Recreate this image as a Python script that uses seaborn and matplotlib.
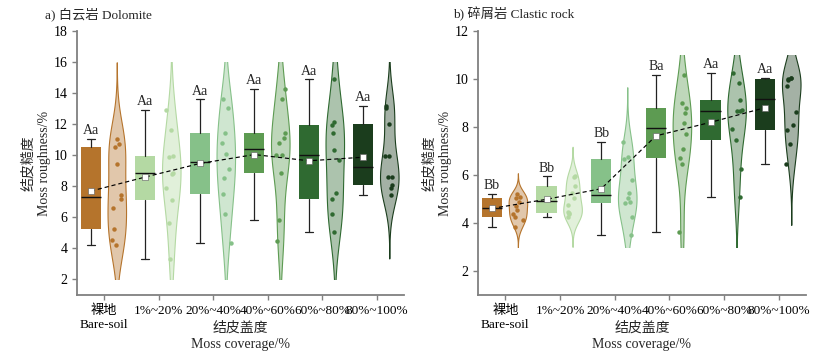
import numpy as np
import seaborn as sns
import matplotlib.pyplot as plt
from matplotlib.patches import Rectangle
from matplotlib.colors import to_rgb

# coverage classes
categories = ['裸地\nBare-soil', '1%~20%', '20%~40%', '40%~60%', '60%~80%', '80%~100%']
box_colors = ['#B5742C', '#B4D9A3', '#86C189', '#5D9B52', '#2F6A31', '#1B3D1D']

# moss roughness (%) per plot, 10 replicates per class
dolomite = [
    [11.04, 10.72, 10.56, 9.42, 7.42, 7.21, 6.62, 5.22, 4.51, 4.20],
    [12.92, 11.60, 9.96, 9.90, 8.88, 8.78, 7.87, 7.09, 5.64, 3.34],
    [13.61, 13.04, 11.43, 10.80, 10.05, 9.12, 8.56, 7.52, 6.20, 4.37],
    [14.28, 13.62, 11.46, 11.12, 10.77, 10.02, 10.00, 8.86, 5.80, 4.50],
    [14.88, 12.17, 11.94, 11.40, 10.33, 9.71, 7.55, 7.17, 6.20, 5.08],
    [13.18, 13.05, 12.03, 9.92, 9.92, 8.62, 8.62, 8.08, 7.87, 7.44],
]
clastic = [
    [5.21, 5.10, 5.03, 4.88, 4.70, 4.55, 4.38, 4.23, 4.12, 3.85],
    [5.95, 5.90, 5.53, 5.26, 5.05, 4.75, 4.45, 4.41, 4.36, 4.23],
    [7.37, 6.74, 6.67, 5.78, 5.26, 5.04, 4.86, 4.84, 4.23, 3.50],
    [10.16, 9.00, 8.81, 8.58, 8.16, 7.72, 7.08, 6.72, 6.44, 3.64],
    [10.27, 9.85, 9.11, 8.72, 8.67, 8.65, 7.90, 7.44, 6.27, 5.07],
    [10.06, 10.05, 10.00, 9.95, 9.70, 8.62, 8.08, 7.89, 7.28, 6.44],
]
dolomite_letters = ['Aa', 'Aa', 'Aa', 'Aa', 'Aa', 'Aa']
clastic_letters = ['Bb', 'Bb', 'Bb', 'Ba', 'Aa', 'Aa']


def lighten(c, f=0.4):
    r = np.array(to_rgb(c))
    return tuple(1 - f * (1 - r))


def box_stats(vals):
    # Tukey hinges, whiskers at 1.5 IQR, no fliers drawn
    v = np.sort(np.asarray(vals))
    n = len(v)
    half = n // 2
    q1 = np.median(v[:half + n % 2])
    q3 = np.median(v[half:])
    iqr = q3 - q1
    return dict(med=np.median(v), q1=q1, q3=q3,
                whislo=v[v >= q1 - 1.5 * iqr].min(),
                whishi=v[v <= q3 + 1.5 * iqr].max(),
                mean=v.mean(), fliers=[])


def draw_panel(ax, data, letters, clip, ylim, yticks):
    box_pos = np.arange(len(data)) - 0.245
    vio_pos = np.arange(len(data)) + 0.23

    for i, vals in enumerate(data):
        n0 = len(ax.collections)
        sns.violinplot(x=np.full(len(vals), vio_pos[i]), y=vals, orient='x',
                       native_scale=True, ax=ax, color=lighten(box_colors[i]),
                       linecolor=box_colors[i], linewidth=0.8, saturation=1,
                       inner=None, cut=3, width=0.34)
        rect = Rectangle((-1, clip[0]), 8, clip[1] - clip[0], transform=ax.transData)
        for coll in ax.collections[n0:]:
            coll.set_clip_path(rect)
        sns.stripplot(x=np.full(len(vals), vio_pos[i]), y=vals, orient='x',
                      native_scale=True, ax=ax, color=box_colors[i], size=3.2,
                      linewidth=0, jitter=0.1, zorder=3)

    stats = [box_stats(v) for v in data]
    bp = ax.bxp(stats, positions=box_pos, widths=0.37, capwidths=0.15,
                patch_artist=True, showmeans=True, showfliers=False,
                boxprops=dict(linewidth=0),
                whiskerprops=dict(color='#222222', linewidth=0.9),
                capprops=dict(color='#222222', linewidth=0.9),
                medianprops=dict(color='#111111', linewidth=1.0),
                meanprops=dict(marker='s', markerfacecolor='white',
                               markeredgecolor='0.35', markeredgewidth=0.4,
                               markersize=3.8, zorder=6))
    for patch, c in zip(bp['boxes'], box_colors):
        patch.set_facecolor(c)
        patch.set_edgecolor(c)

    means = [s['mean'] for s in stats]
    ax.plot(box_pos, means, color='k', lw=0.85, ls=(0, (3.5, 2.5)), zorder=5)

    for i, s in enumerate(stats):
        ax.annotate(letters[i], (box_pos[i], s['whishi']), xytext=(0, 1.2),
                    textcoords='offset points', ha='center', va='bottom', fontsize=10)

    ax.set_xlim(-0.5, 5.5)
    ax.set_ylim(*ylim)
    ax.set_xticks(np.arange(len(categories)))
    ax.set_xticklabels(categories, fontsize=9.5)
    ax.set_yticks(yticks)
    ax.set_xlabel('结皮盖度\nMoss coverage/%', fontsize=10, linespacing=1.35)
    ax.xaxis.set_label_coords(0.5, -0.1)
    ax.set_ylabel('结皮糙度\nMoss roughness/%', fontsize=10, linespacing=1.3)
    ax.yaxis.set_label_coords(-0.078, 0.5)
    for side in ['top', 'right']:
        ax.spines[side].set_visible(False)
    for side in ['left', 'bottom']:
        ax.spines[side].set_color('#808080')
        ax.spines[side].set_linewidth(1.3)
    ax.tick_params(colors='#808080', labelcolor='black', length=3.5, width=1)
    ax.tick_params(axis='y', labelsize=10)


sns.set_style('ticks')
plt.rcParams['font.family'] = ['Liberation Serif', 'Noto Sans CJK SC']
np.random.seed(3)

fig = plt.figure(figsize=(8.39, 3.55), dpi=100)
ax1 = fig.add_axes([77 / 839, 60 / 355, 327 / 839, 264 / 355])
ax2 = fig.add_axes([478 / 839, 60 / 355, 328 / 839, 264 / 355])

draw_panel(ax1, dolomite, dolomite_letters, (2, 16), (1, 18), np.arange(2, 19, 2))
draw_panel(ax2, clastic, clastic_letters, (3, 11), (1, 12), np.arange(2, 13, 2))

fig.text(45 / 839, 1 - 14 / 355, 'a) 白云岩 Dolomite', fontsize=9.5, va='center')
fig.text(453 / 839, 1 - 14 / 355, 'b) 碎屑岩 Clastic rock', fontsize=9.5, va='center')

fig.savefig('out.png', dpi=100)
